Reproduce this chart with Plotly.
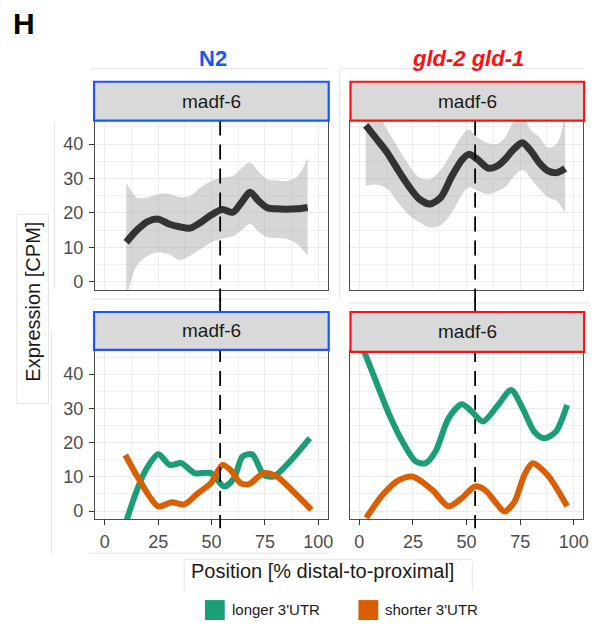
import plotly.graph_objects as go

W, H = 606, 627

# ---------------- data ----------------
# N2, upper panel: smoothed total expression with confidence band
n2_pos = [10, 15, 20, 25, 30, 35, 40, 45, 50, 55, 60, 64, 68, 72, 76, 80, 85, 90, 95]
n2_mean = [11.5, 15.0, 17.5, 18.2, 16.8, 16.0, 15.6, 17.3, 19.5, 21.0, 20.2, 23.0, 26.0, 23.5, 21.5, 21.2, 21.1, 21.2, 21.6]
n2_upper = [28.8, 24.5, 24.5, 25.4, 25.6, 24.6, 24.9, 27.5, 29.3, 30.2, 30.8, 33.0, 34.6, 32.0, 29.8, 29.5, 29.3, 30.5, 36.0]
n2_lower = [-5.0, 4.7, 7.5, 8.6, 8.0, 6.4, 7.6, 9.5, 11.5, 12.5, 13.2, 15.0, 16.8, 14.5, 12.9, 12.7, 12.5, 11.0, 7.6]

# gld-2 gld-1, upper panel
gld_pos = [3, 8, 13, 18, 23, 28, 33, 38, 43, 48, 51, 55, 60, 64, 68, 72, 76, 80, 84, 88, 92, 96]
gld_mean = [45.4, 41.5, 37.5, 32.5, 27.8, 24.0, 22.6, 24.5, 30.5, 35.5, 37.0, 35.6, 33.0, 33.5, 35.6, 38.5, 40.4, 38.0, 34.5, 32.2, 31.7, 32.9]
gld_upper = [50.0, 49.0, 44.0, 39.0, 34.0, 30.3, 29.8, 32.5, 37.5, 42.5, 44.2, 42.0, 40.3, 40.0, 42.0, 46.5, 48.0, 44.0, 42.0, 39.0, 40.0, 49.0]
gld_lower = [27.8, 28.2, 27.0, 23.0, 19.5, 17.3, 15.8, 16.5, 20.0, 25.4, 27.4, 26.5, 25.4, 26.2, 27.5, 30.5, 32.5, 30.0, 27.0, 24.5, 23.5, 20.0]

# N2, lower panel: isoforms
n2_long_pos = [10.3, 14.2, 18.8, 25, 30.4, 35.8, 42, 49.7, 55.9, 60.5, 64.4, 69, 74.4, 79, 86.7, 96]
n2_long = [-2.5, 4.8, 11.6, 16.6, 13.5, 14.0, 11.1, 11.1, 7.2, 9.6, 15.9, 16.6, 10.6, 10.1, 14.5, 21.3]
n2_short_pos = [9.6, 15.7, 25, 31.2, 37.3, 43.5, 49.7, 55.1, 58.9, 63.6, 67.5, 74.4, 80.6, 88.3, 96.8]
n2_short = [16.4, 9.6, 1.4, 2.6, 2.0, 5.2, 8.2, 13.5, 12.0, 8.2, 7.9, 11.1, 10.1, 5.7, 0.4]

# gld-2 gld-1, lower panel: isoforms
gld_long_pos = [1.7, 7.8, 14, 20.1, 26.3, 30.9, 35.5, 41.6, 47.8, 52.4, 57.7, 64.7, 70.8, 76.2, 81.6, 86.2, 91.6, 96.9]
gld_long = [47.5, 37.8, 28.1, 20.3, 14.5, 14.0, 17.4, 27.1, 31.2, 29.1, 26.2, 31.0, 35.4, 30.0, 23.2, 21.3, 23.2, 31.0]
gld_short_pos = [3.2, 10.9, 18.6, 24.7, 34, 41.6, 47.8, 53.9, 58.5, 63.9, 67.7, 72.4, 77, 80.8, 87.7, 96.9]
gld_short = [-2.0, 4.8, 9.1, 10.1, 6.2, 1.4, 3.8, 7.2, 6.2, 2.3, -0.1, 2.8, 10.6, 14.0, 10.6, 1.4]

boundary = 54  # dashed vertical position
x_ticks = [0, 25, 50, 75, 100]
y_ticks = [0, 10, 20, 30, 40]

GREEN = "#1b9e77"
ORANGE = "#d95f02"
BLUE = "#1a56ff"
RED = "#ff0f0f"
FONT = "Liberation Sans, Arial, sans-serif"

def px(x):
    return x / W

def py(y):
    return 1 - y / H

fig = go.Figure()

# panel geometry (pixels)
LX = (96, 331)
RX = (353, 589)
TY = (121, 291)
BY = (352, 521)

axes = {
    "1": (LX, TY), "2": (RX, TY), "3": (LX, BY), "4": (RX, BY),
}

band = "rgba(153,153,153,0.4)"

def add_smooth(pos, mean, lo, hi, ax):
    fig.add_trace(go.Scatter(x=pos, y=hi, mode="lines", line=dict(width=0, shape="spline"),
                             xaxis="x" + ax, yaxis="y" + ax, showlegend=False, hoverinfo="skip"))
    fig.add_trace(go.Scatter(x=pos, y=lo, mode="lines", line=dict(width=0, shape="spline"),
                             fill="tonexty", fillcolor=band,
                             xaxis="x" + ax, yaxis="y" + ax, showlegend=False, hoverinfo="skip"))
    fig.add_trace(go.Scatter(x=pos, y=mean, mode="lines",
                             line=dict(color="#333333", width=7, shape="spline", smoothing=0.8),
                             xaxis="x" + ax, yaxis="y" + ax, showlegend=False))

add_smooth(n2_pos, n2_mean, n2_lower, n2_upper, "1")
add_smooth(gld_pos, gld_mean, gld_lower, gld_upper, "2")

for pos, vals, col, ax in [
    (n2_long_pos, n2_long, GREEN, "3"),
    (n2_short_pos, n2_short, ORANGE, "3"),
    (gld_long_pos, gld_long, GREEN, "4"),
    (gld_short_pos, gld_short, ORANGE, "4"),
]:
    fig.add_trace(go.Scatter(x=pos, y=vals, mode="lines",
                             line=dict(color=col, width=6, shape="spline", smoothing=0.8),
                             xaxis="x" + ax, yaxis="y" + ax, showlegend=False))

layout = dict(
    width=W, height=H, margin=dict(l=0, r=0, t=0, b=0),
    paper_bgcolor="white", plot_bgcolor="white",
    font=dict(family=FONT, color="#4d4d4d", size=18),
    showlegend=False,
)

for k, ((x0, x1), (y0, y1)) in axes.items():
    left = k in ("1", "3")
    bottom = k in ("3", "4")
    layout["xaxis" + ("" if k == "1" else k)] = dict(
        domain=[px(x0), px(x1)], range=[-4.6, 104.4], anchor="y" + k,
        tickvals=x_ticks, showticklabels=bottom, ticks="outside" if bottom else "",
        ticklen=5, tickcolor="#333333", tickwidth=1.2,
        tickfont=dict(size=18, color="#4d4d4d"),
        showgrid=True, gridcolor="#ebebeb", gridwidth=1.2,
        minor=dict(dtick=12.5, tick0=0, showgrid=True, gridcolor="#f0f0f0", gridwidth=0.8),
        showline=True, mirror=True, linecolor="#4d4d4d", linewidth=1.2,
        zeroline=False, fixedrange=True,
    )
    layout["yaxis" + ("" if k == "1" else k)] = dict(
        domain=[py(y1), py(y0)], range=[-2.4, 46.8], anchor="x" + k,
        tickvals=y_ticks, showticklabels=left, ticks="outside" if left else "",
        ticklen=5, tickcolor="#333333", tickwidth=1.2,
        tickfont=dict(size=18, color="#4d4d4d"),
        showgrid=True, gridcolor="#ebebeb", gridwidth=1.2,
        minor=dict(dtick=5, tick0=0, showgrid=True, gridcolor="#f0f0f0", gridwidth=0.8),
        showline=True, mirror=True, linecolor="#4d4d4d", linewidth=1.2,
        zeroline=False, fixedrange=True,
    )

fig.update_layout(**layout)
fig.update_xaxes(ticklabelstandoff=1)
fig.update_yaxes(ticklabelstandoff=2)

shapes = []
annotations = []

# faint composite frames
frame = "#e4e4e4"
for (a, b, c, d) in [
    (91, 69, 332, 69), (343, 69, 590, 69), (343, 69, 343, 300), (55, 123, 55, 290),
    (17, 215, 17, 405), (49, 215, 49, 405), (17, 215, 49, 215), (17, 405, 49, 405),
    (92, 300, 333, 300), (352, 304, 596, 304), (52, 333, 52, 556), (90, 555, 333, 555),
    (186, 563, 186, 592), (477, 563, 477, 592), (186, 561, 477, 561),
]:
    shapes.append(dict(type="line", xref="paper", yref="paper", x0=px(a), y0=py(b), x1=px(c), y1=py(d),
                       line=dict(color=frame, width=1), layer="below"))

# dashed boundary lines
for xr, (ya, yb) in [("x", (121, 302)), ("x2", (121, 302)), ("x3", (300, 530)), ("x4", (300, 530))]:
    shapes.append(dict(type="line", xref=xr, yref="paper", x0=boundary, x1=boundary,
                       y0=py(ya), y1=py(yb), line=dict(color="black", width=1.8, dash="15px,9px"),
                       layer="above"))

# strips
for (x0, x1), (y0, y1), col in [
    ((95, 332), (82, 121), BLUE), ((354, 590), (82, 121), RED),
    ((95, 332), (313, 351), BLUE), ((354, 590), (313, 353), RED),
]:
    shapes.append(dict(type="rect", xref="paper", yref="paper", x0=px(x0), x1=px(x1), y0=py(y1), y1=py(y0),
                       fillcolor="#d9d9d9", line=dict(color=col, width=2.2), layer="above"))
    annotations.append(dict(text="madf-6", xref="paper", yref="paper", x=px((x0 + x1) / 2), y=py((y0 + y1) / 2),
                            showarrow=False, font=dict(size=19, color="#1a1a1a", family=FONT),
                            xanchor="center", yanchor="middle"))

# titles
annotations.append(dict(text="<b>H</b>", xref="paper", yref="paper", x=px(11), y=py(24), xanchor="left",
                        yanchor="middle", showarrow=False, font=dict(size=30, color="black", family=FONT)))
annotations.append(dict(text="<b>N2</b>", xref="paper", yref="paper", x=px(215), y=py(59), xanchor="center",
                        yanchor="middle", showarrow=False, font=dict(size=22, color=BLUE, family=FONT)))
annotations.append(dict(text="<b><i>gld-2 gld-1</i></b>", xref="paper", yref="paper", x=px(473), y=py(59),
                        xanchor="center", yanchor="middle", showarrow=False,
                        font=dict(size=22, color=RED, family=FONT)))
annotations.append(dict(text="Expression [CPM]", xref="paper", yref="paper", x=px(33), y=py(303),
                        xanchor="center", yanchor="middle", textangle=-90, showarrow=False,
                        font=dict(size=20, color="#1a1a1a", family=FONT)))
annotations.append(dict(text="Position [% distal-to-proximal]", xref="paper", yref="paper", x=px(326), y=py(573),
                        xanchor="center", yanchor="middle", showarrow=False,
                        font=dict(size=20, color="#1a1a1a", family=FONT)))

# legend
for x0, col, label in [(207, GREEN, "longer 3'UTR"), (362, ORANGE, "shorter 3'UTR")]:
    shapes.append(dict(type="rect", xref="paper", yref="paper", x0=px(x0), x1=px(x0 + 20), y0=py(622), y1=py(602),
                       fillcolor=col, line=dict(width=0)))
    annotations.append(dict(text=label, xref="paper", yref="paper", x=px(x0 + 25), y=py(611), xanchor="left",
                            yanchor="middle", showarrow=False, font=dict(size=15, color="#1a1a1a", family=FONT)))

fig.update_layout(shapes=shapes, annotations=annotations)
fig.write_html("out.html")
